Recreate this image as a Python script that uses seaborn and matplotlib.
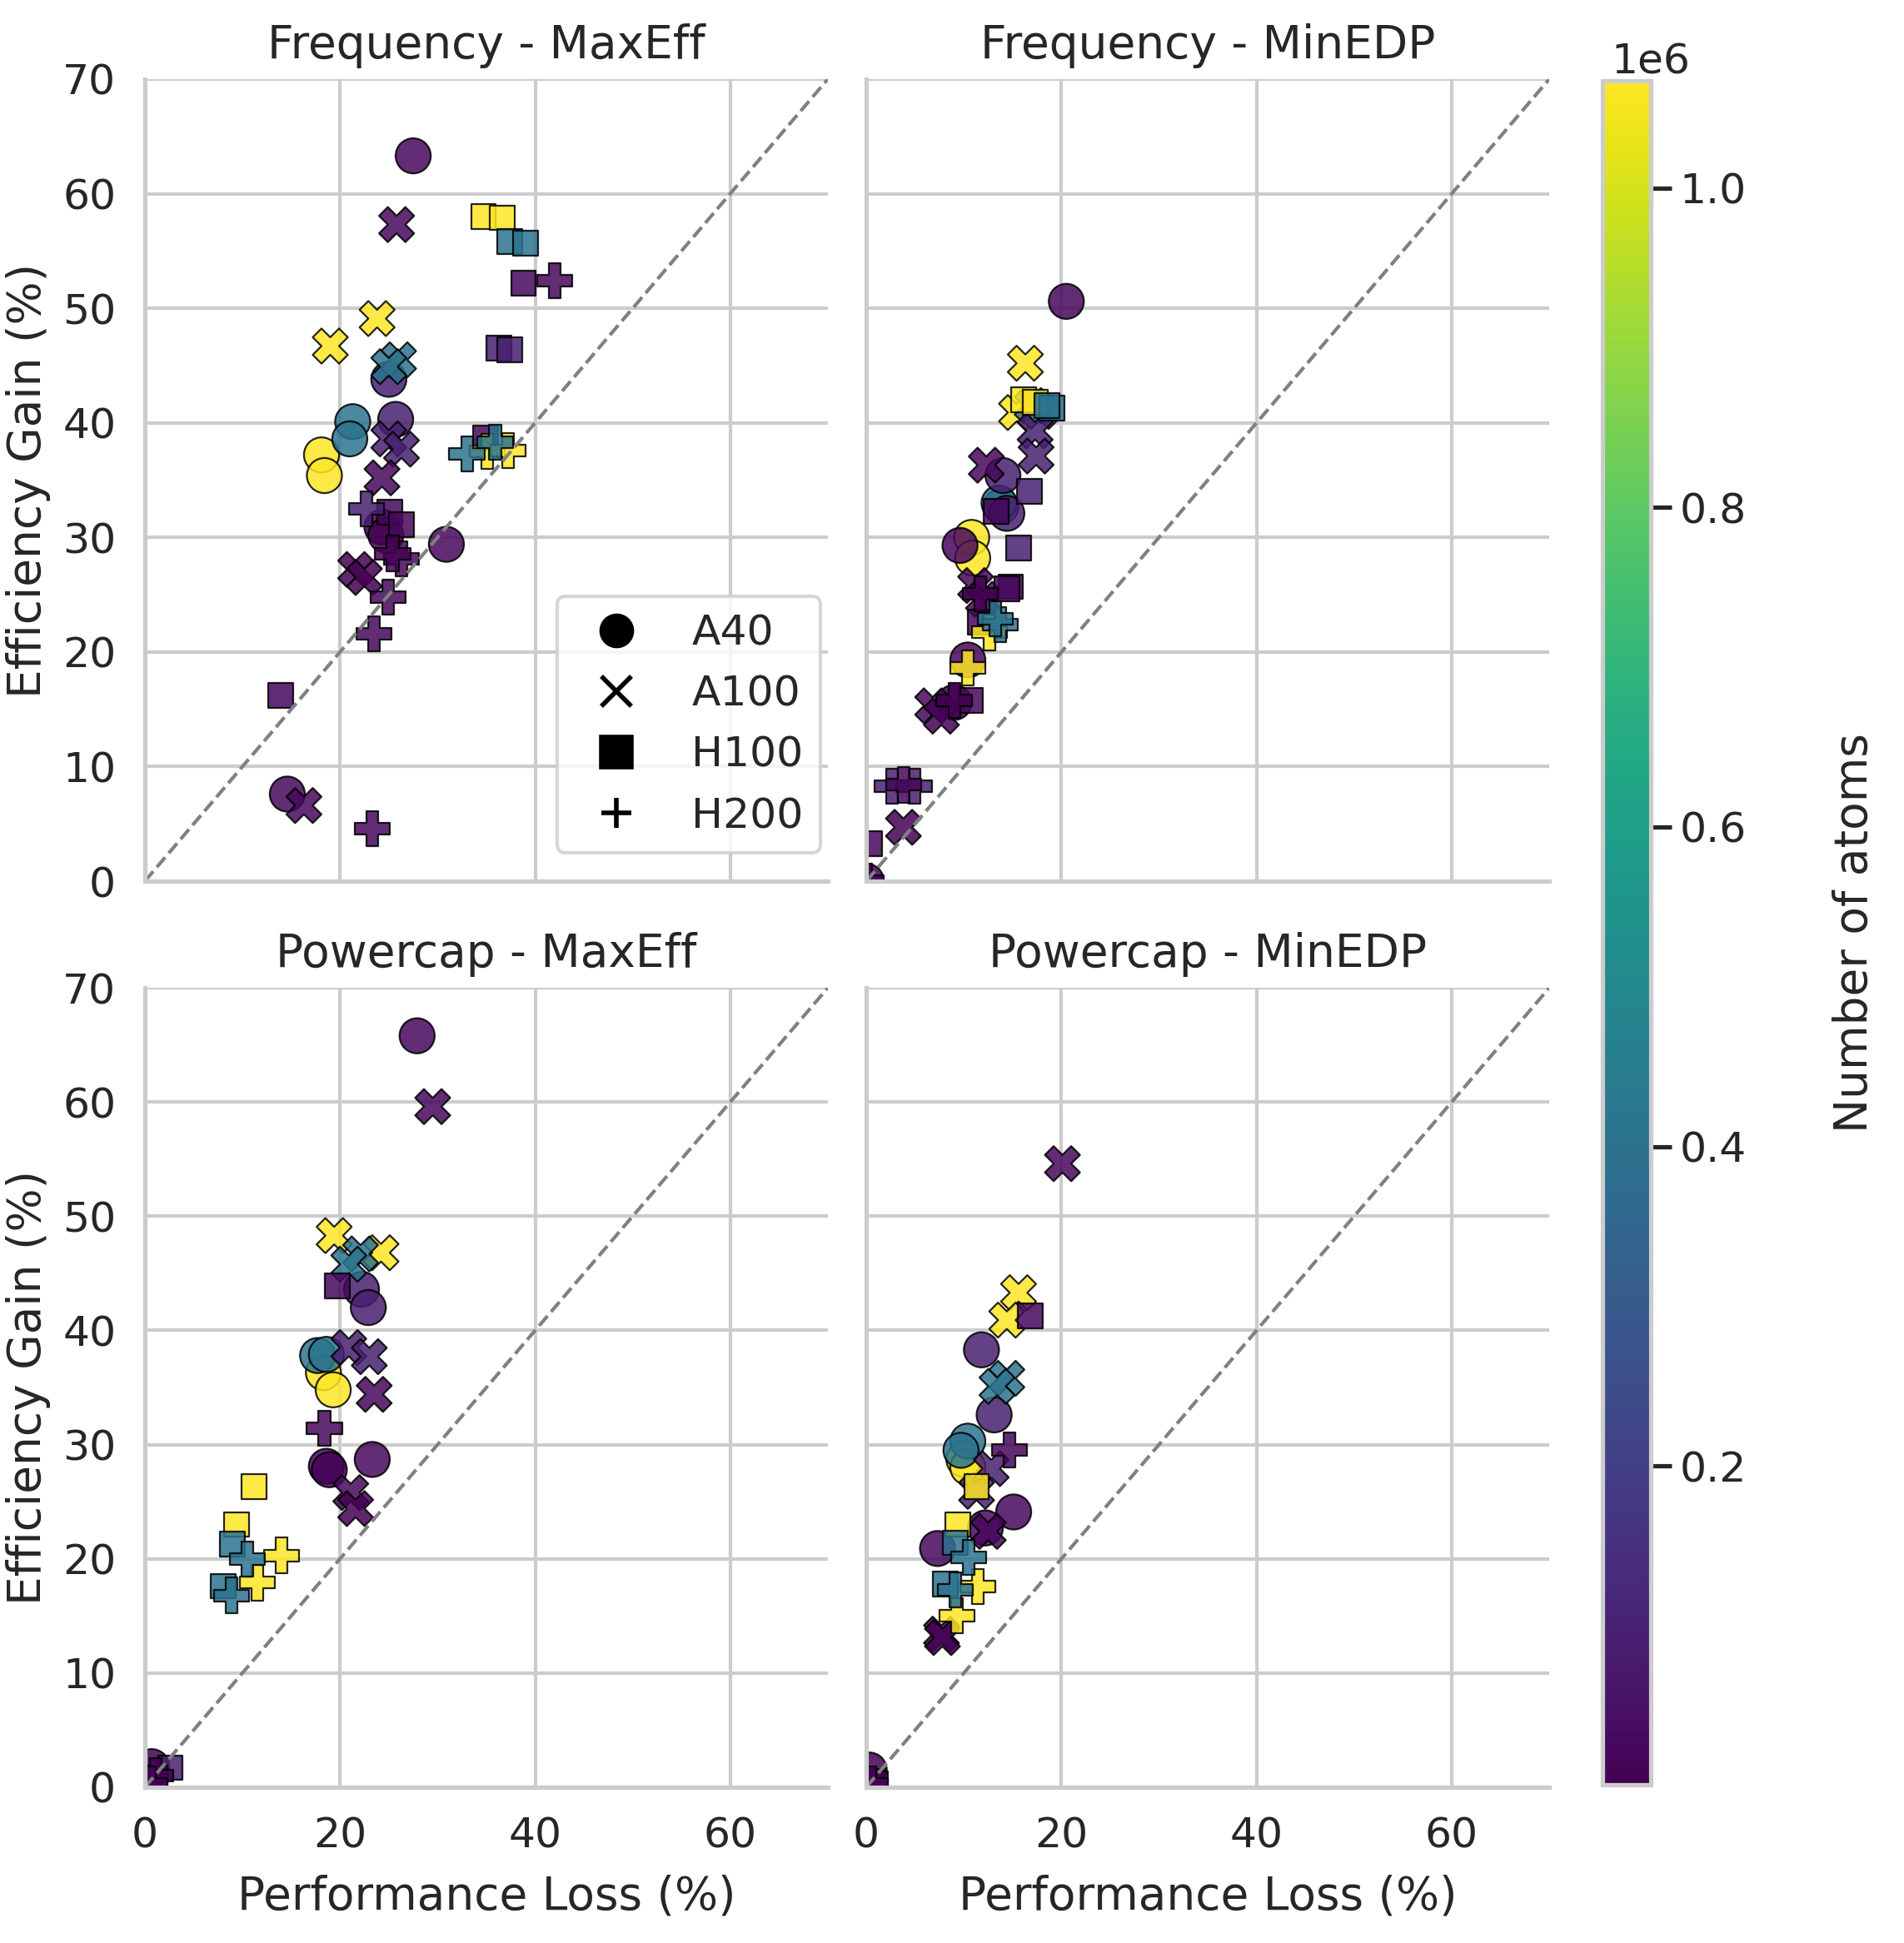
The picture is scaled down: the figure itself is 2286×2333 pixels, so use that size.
import numpy as np
import pandas as pd
import seaborn as sns
import matplotlib.pyplot as plt
from matplotlib.colors import Normalize
from matplotlib.cm import ScalarMappable
from matplotlib.lines import Line2D

# system sizes (number of atoms) of the benchmark inputs
TRP, MYO, JAC, NUC, FIX, CELL, STMV = 304, 2492, 23558, 25095, 90906, 408609, 1067095

GPUS = ["A40", "A100", "H100", "H200"]

# Frequency - MaxEff
fm_gpu = ["A40"] * 11 + ["A100"] * 11 + ["H100"] * 11 + ["H200"] * 11
fm_loss = [18.1, 18.4, 21.3, 21.0, 27.5, 25.0, 25.7, 30.9, 24.3, 24.7, 14.6,
           23.8, 19.0, 26.0, 25.0, 25.8, 25.0, 26.3, 24.3, 21.6, 22.5, 16.3,
           34.7, 36.6, 37.4, 39.0, 38.8, 36.3, 37.4, 34.9, 25.1, 26.3, 13.9,
           35.1, 37.2, 33.0, 35.9, 42.0, 22.7, 26.3, 25.4, 24.9, 23.5, 23.3]
fm_gain = [37.2, 35.4, 40.1, 38.6, 63.3, 43.8, 40.3, 29.4, 30.9, 30.2, 7.6,
           49.1, 46.7, 45.5, 44.9, 57.3, 38.6, 37.7, 35.2, 27.2, 26.5, 6.6,
           58.0, 57.9, 55.8, 55.7, 52.2, 46.5, 46.4, 38.7, 32.2, 31.1, 16.2,
           37.5, 37.6, 37.3, 38.3, 52.4, 32.5, 28.1, 28.6, 24.8, 21.6, 4.6]
fm_atoms = [STMV, STMV, CELL, CELL, JAC, FIX, FIX, JAC, MYO, TRP, JAC,
            STMV, STMV, CELL, CELL, JAC, FIX, FIX, JAC, MYO, TRP, NUC,
            STMV, STMV, CELL, CELL, JAC, FIX, FIX, JAC, NUC, JAC, JAC,
            STMV, STMV, CELL, CELL, JAC, FIX, JAC, MYO, JAC, JAC, JAC]

# Frequency - MinEDP
fe_gpu = ["A40"] * 11 + ["A100"] * 12 + ["H100"] * 12 + ["H200"] * 10
fe_loss = [10.8, 10.9, 13.8, 13.6, 20.5, 14.0, 14.4, 9.6, 10.4, 9.0, 0.0,
           16.3, 15.4, 17.0, 17.8, 17.3, 17.4, 12.3, 11.2, 12.0, 6.8, 7.7, 3.8,
           16.1, 17.3, 19.0, 18.5, 16.7, 13.3, 15.6, 14.8, 14.4, 11.7, 10.7, 0.3,
           12.6, 10.4, 13.7, 13.2, 11.7, 9.0, 2.6, 4.9, 3.8, 0.0]
fe_gain = [30.0, 28.2, 32.7, 33.0, 50.6, 35.4, 32.1, 29.3, 19.3, 15.6, 0.0,
           45.2, 40.9, 41.5, 41.0, 39.3, 37.1, 36.3, 25.8, 24.6, 15.3, 14.4, 4.7,
           42.0, 41.8, 41.3, 41.5, 34.0, 32.3, 29.1, 25.7, 25.5, 22.6, 15.8, 3.3,
           21.7, 18.6, 22.4, 22.9, 25.1, 15.8, 8.3, 8.3, 8.4, 0.0]
fe_atoms = [STMV, STMV, CELL, CELL, JAC, FIX, FIX, JAC, JAC, MYO, TRP,
            STMV, STMV, CELL, CELL, FIX, FIX, JAC, JAC, NUC, JAC, MYO, TRP,
            STMV, STMV, CELL, CELL, FIX, JAC, FIX, JAC, NUC, JAC, JAC, JAC,
            STMV, STMV, CELL, CELL, TRP, MYO, FIX, FIX, JAC, TRP]

# Powercap - MaxEff
pm_gpu = ["A40"] * 11 + ["A100"] * 11 + ["H100"] * 7 + ["H200"] * 7
pm_loss = [18.3, 19.3, 17.7, 18.6, 27.9, 22.2, 22.9, 23.3, 18.6, 18.9, 0.7,
           19.4, 24.2, 22.1, 20.9, 29.5, 20.9, 23.0, 23.5, 21.1, 21.6, 0.9,
           11.2, 9.4, 9.0, 8.0, 19.7, 2.6, 1.0,
           14.0, 11.5, 10.5, 8.9, 18.4, 1.1, 0.5]
pm_gain = [36.3, 34.8, 37.8, 37.9, 65.8, 43.6, 42.0, 28.7, 28.1, 27.8, 1.8,
           48.3, 46.8, 46.7, 45.8, 59.6, 38.5, 37.7, 34.4, 25.8, 24.4, 0.5,
           26.3, 23.0, 21.3, 17.6, 43.9, 1.7, 0.8,
           20.3, 17.9, 20.0, 16.8, 31.4, 1.0, 0.3]
pm_atoms = [STMV, STMV, CELL, CELL, JAC, FIX, FIX, JAC, NUC, MYO, TRP,
            STMV, STMV, CELL, CELL, JAC, FIX, FIX, JAC, NUC, MYO, TRP,
            STMV, STMV, CELL, CELL, JAC, FIX, TRP,
            STMV, STMV, CELL, CELL, JAC, MYO, TRP]

# Powercap - MinEDP
pe_gpu = ["A40"] * 10 + ["A100"] * 10 + ["H100"] * 7 + ["H200"] * 6
pe_loss = [10.0, 10.4, 10.4, 9.7, 11.8, 13.1, 15.1, 12.2, 7.3, 0.3,
           15.6, 14.4, 14.4, 13.4, 20.1, 12.8, 11.3, 12.5, 7.7, 7.8,
           11.3, 9.4, 9.1, 8.1, 16.8, 0.6, 0.9,
           11.4, 9.3, 10.5, 9.1, 14.7, 0.4]
pe_gain = [28.7, 28.0, 30.3, 29.5, 38.3, 32.6, 24.1, 22.7, 20.9, 1.5,
           43.3, 40.9, 35.8, 35.1, 54.6, 27.9, 25.9, 22.4, 13.4, 13.1,
           26.3, 23.0, 21.4, 17.8, 41.3, 0.5, 0.3,
           17.6, 15.0, 20.1, 17.3, 29.5, 0.3]
pe_atoms = [STMV, STMV, CELL, CELL, FIX, FIX, JAC, NUC, JAC, TRP,
            STMV, STMV, CELL, CELL, JAC, FIX, FIX, NUC, MYO, TRP,
            STMV, STMV, CELL, CELL, JAC, MYO, TRP,
            STMV, STMV, CELL, CELL, JAC, TRP]

panels = [
    ("Frequency - MaxEff", fm_gpu, fm_loss, fm_gain, fm_atoms),
    ("Frequency - MinEDP", fe_gpu, fe_loss, fe_gain, fe_atoms),
    ("Powercap - MaxEff", pm_gpu, pm_loss, pm_gain, pm_atoms),
    ("Powercap - MinEDP", pe_gpu, pe_loss, pe_gain, pe_atoms),
]

sns.set_theme(style="whitegrid", context="talk", font_scale=1.1)

all_atoms = fm_atoms + fe_atoms + pm_atoms + pe_atoms
norm = Normalize(vmin=min(all_atoms), vmax=max(all_atoms))

fig = plt.figure(figsize=(11.43, 11.665), dpi=200)
boxes = [[0.0761, 0.5465, 0.3587, 0.4128],
         [0.4550, 0.5465, 0.3587, 0.4128],
         [0.0761, 0.0802, 0.3587, 0.4114],
         [0.4550, 0.0802, 0.3587, 0.4114]]

axes = []
for i, (title, gpu, loss, gain, atoms) in enumerate(panels):
    ax = fig.add_axes(boxes[i])
    df = pd.DataFrame({"gpu": gpu, "loss": loss, "gain": gain, "atoms": atoms})
    # seaborn default style markers: o, X, square (4,0,45), P
    sns.scatterplot(data=df, x="loss", y="gain", hue="atoms", style="gpu",
                    palette="viridis", hue_norm=norm, markers=True,
                    style_order=GPUS, s=230, edgecolor="black", linewidth=0.8,
                    alpha=0.85, legend=False, ax=ax)
    ax.plot([0, 70], [0, 70], ls="--", color="gray", lw=1.5)
    ax.set_xlim(0, 70)
    ax.set_ylim(0, 70)
    ax.set_xticks([0, 20, 40, 60])
    ax.set_yticks(range(0, 71, 10))
    ax.set_title(title, pad=9)
    ax.set_xlabel("Performance Loss (%)" if i >= 2 else "", labelpad=8)
    ax.set_ylabel("Efficiency Gain (%)" if i % 2 == 0 else "", labelpad=5)
    if i < 2:
        ax.tick_params(labelbottom=False)
    if i % 2 == 1:
        ax.tick_params(labelleft=False)
    axes.append(ax)

sns.despine(fig)

handles = [Line2D([], [], marker=m, color="black", linestyle="None",
                  markersize=13, markeredgewidth=2)
           for m in ["o", "x", "s", "+"]]
axes[0].legend(handles, GPUS, loc="lower right", bbox_to_anchor=(0.989, 0.035),
               borderaxespad=0)

cax = fig.add_axes([0.8416, 0.0814, 0.0254, 0.877])
cb = fig.colorbar(ScalarMappable(norm=norm, cmap="viridis"), cax=cax)
cb.set_label("Number of atoms", labelpad=37)
cax.yaxis.get_offset_text().set_ha("center")

fig.savefig("out.png", dpi=200)
